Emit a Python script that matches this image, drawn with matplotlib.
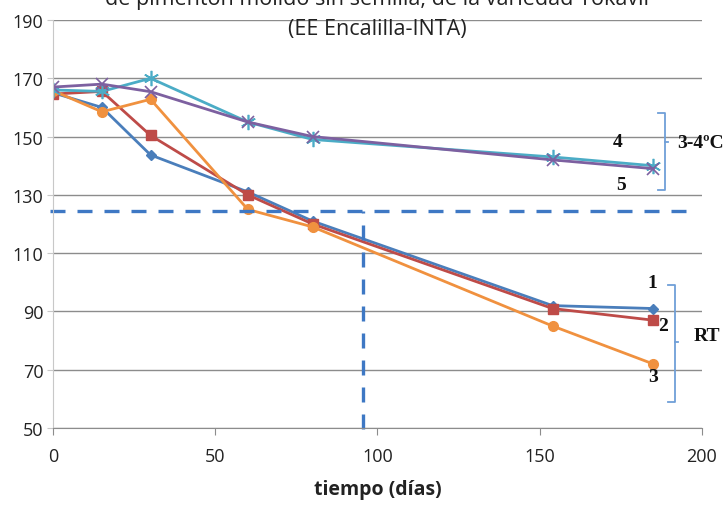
import matplotlib.pyplot as plt

dias = [0, 15, 30, 60, 80, 154, 185]
serie_1 = [165, 160, 143.7, 131, 121, 92, 91]
serie_2 = [164.6, 165.5, 150.4, 130, 120, 91, 87]
serie_3 = [165.7, 158.5, 162.8, 125, 119, 85, 72]
serie_4 = [166, 165.5, 170, 155, 149, 143, 140]
serie_5 = [167, 168, 165.4, 155, 150, 142, 139]

umbral_y = 124.5
umbral_x = 95.4

plt.rcParams['font.family'] = ['Open Sans', 'DejaVu Sans']

fig = plt.figure(figsize=(7.27, 5.10), dpi=100)
ax = fig.add_axes([0.0733, 0.1588, 0.8919, 0.8000])

ax.plot(dias, serie_1, color='#4A7EBB', lw=2, marker='D', ms=5)
ax.plot(dias, serie_2, color='#BE4B48', lw=2, marker='s', ms=7)
ax.plot(dias, serie_3, color='#F0913F', lw=2, marker='o', ms=7)
ax.plot(dias, serie_4, color='#4BACC6', lw=2, marker=(6, 2, 0), ms=11, mew=1.2)
ax.plot(dias, serie_5, color='#7D60A0', lw=2, marker='x', ms=8, mew=1.2)

# líneas de referencia punteadas
ax.plot([-1, 197.5], [umbral_y, umbral_y], color='#3E78C4', lw=2.4,
        ls=(0, (4.5, 3.6)), clip_on=False)
ax.plot([umbral_x, umbral_x], [49.5, umbral_y], color='#3E78C4', lw=2.4,
        ls=(0, (4.5, 3.6)), clip_on=False)

ax.set_xlim(0, 200)
ax.set_ylim(50, 190)
ax.set_xticks([0, 50, 100, 150, 200])
ax.set_yticks(range(50, 191, 20))
ax.yaxis.grid(True, color='#8c8c8c', lw=1)
ax.set_axisbelow(True)
for s in ['top', 'right']:
    ax.spines[s].set_visible(False)
ax.spines['left'].set_color('#c8c8c8')
ax.spines['bottom'].set_color('#8c8c8c')
ax.tick_params(axis='y', length=4, color='#c8c8c8', labelsize=13, pad=3,
               labelcolor='#222222')
ax.tick_params(axis='x', length=5, color='#8c8c8c', labelsize=13, pad=9,
               labelcolor='#222222')
ax.set_xlabel('tiempo (días)', fontsize=14, fontweight='bold', labelpad=10,
              color='#222222')

ax.text(0.5, 1.039, 'de pimentón molido sin semilla, de la variedad Yokavil',
        transform=ax.transAxes, ha='center', va='baseline', fontsize=15.5,
        color='#222222')
ax.text(0.5, 0.978, '(EE Encalilla-INTA)', transform=ax.transAxes,
        ha='center', va='center', fontsize=15.5, color='#222222')

# corchetes y etiquetas de grupo
serif = dict(family='Liberation Serif', fontweight='bold', fontsize=14,
             color='#111111')
azul = '#6f9fd8'
ax.plot([186.5, 188.7, 188.7, 186.5], [158.2, 158.2, 131.5, 131.5], color=azul,
        lw=1.3, clip_on=False)
ax.plot([188.7, 189.5], [148, 148], color=azul, lw=1.3, clip_on=False)
ax.plot([189.7, 191.9, 191.9, 189.7], [99, 99, 59, 59], color=azul,
        lw=1.3, clip_on=False)
ax.plot([191.9, 192.7], [79.4, 79.4], color=azul, lw=1.3, clip_on=False)
ax.text(192.4, 148, '3-4ºC', ha='left', va='center', clip_on=False, **serif)
ax.text(197.4, 81.7, 'RT', ha='left', va='center', clip_on=False, **serif)
ax.text(174.2, 148.4, '4', ha='center', va='center', **serif)
ax.text(175, 133.4, '5', ha='center', va='center', **serif)
ax.text(184.8, 100, '1', ha='center', va='center', **serif)
ax.text(188.2, 85.2, '2', ha='center', va='center', **serif)
ax.text(185, 67.6, '3', ha='center', va='center', **serif)

fig.savefig('out.png', dpi=100)
